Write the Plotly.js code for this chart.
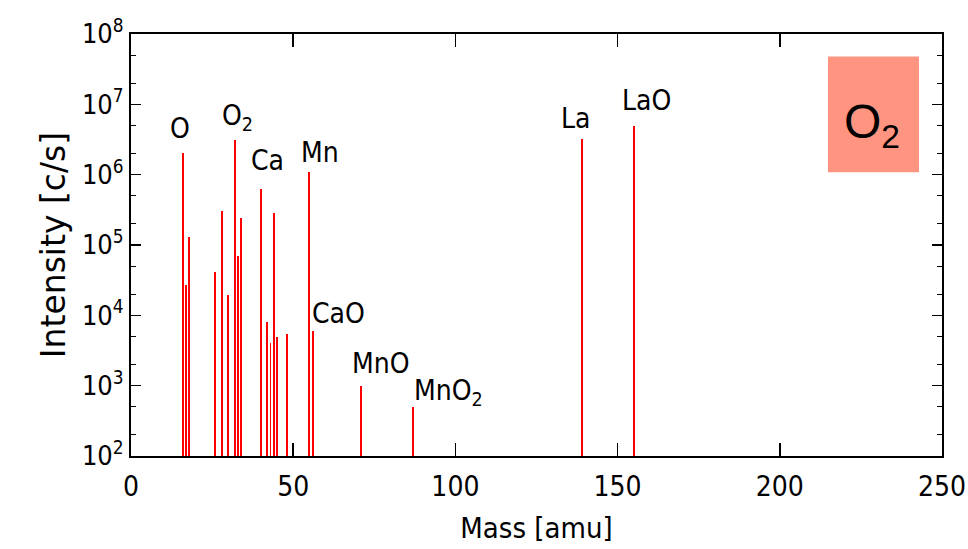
<!DOCTYPE html>
<html><head><meta charset="utf-8">
<script src="https://cdn.plot.ly/plotly-3.0.1.min.js"></script>
<style>html,body{margin:0;padding:0;background:#fff}</style>
</head><body>
<div id="chart" style="width:968px;height:549px"></div>
<script>
const masses = [16, 17, 18, 26, 28, 30, 32, 33, 34, 40, 42, 43, 44, 45, 48, 55, 56, 71, 87, 139, 155];
const intensities = [2.06e6, 2.7e4, 1.3e5, 4.1e4, 3.0e5, 1.95e4, 3.15e6, 6.9e4, 2.45e5, 6.3e5, 8.0e3, 4.0e3, 2.85e5, 4.9e3, 5.5e3, 1.1e6, 6.0e3, 1.0e3, 5.0e2, 3.2e6, 4.9e6];
const labelTexts = ['O', 'O<sub>2</sub>', 'Ca', 'Mn', 'CaO', 'MnO', 'MnO<sub>2</sub>', 'La', 'LaO'];
const labelMass = [15.1, 32.7, 42.2, 58.3, 64.1, 77.2, 97.9, 136.9, 159];
const labelY = [6.66, 6.81, 6.2, 6.32, 4.03, 3.31, 2.91, 6.8, 7.06];
const yTickVals = [1e2, 1e3, 1e4, 1e5, 1e6, 1e7, 1e8];
const yTickText = ['10<sup>2</sup>', '10<sup>3</sup>', '10<sup>4</sup>', '10<sup>5</sup>', '10<sup>6</sup>', '10<sup>7</sup>', '10<sup>8</sup>'];
const legendText = 'O<sub>2</sub>';

const narrow = '"DejaVu Sans Condensed", "Liberation Sans Narrow", "Liberation Sans", sans-serif';

const trace = {
  type: 'bar', x: masses, y: intensities, width: 0.6,
  marker: {color: '#ff0000', line: {width: 0}}, hoverinfo: 'x+y'
};

const annotations = labelTexts.map((t, i) => ({
  x: labelMass[i], y: labelY[i], xref: 'x', yref: 'y', text: t, showarrow: false,
  font: {family: narrow, size: 28, color: '#000'}, xanchor: 'center', yanchor: 'middle'
}));
annotations.push({
  xref: 'paper', yref: 'paper', x: (872-131)/811, y: (456-125)/422.5, text: legendText,
  showarrow: false, font: {family: '"Liberation Sans", Arial, sans-serif', size: 48, color: '#000'},
  xanchor: 'center', yanchor: 'middle'
});

const layout = {
  width: 968, height: 549,
  margin: {l: 131, r: 26, t: 34, b: 93},
  paper_bgcolor: '#fff', plot_bgcolor: '#fff',
  showlegend: false, bargap: 0,
  font: {family: narrow, color: '#000'},
  xaxis: {
    range: [0, 250], tickvals: [0, 50, 100, 150, 200, 250],
    ticks: 'inside', ticklen: 13, tickwidth: 1.5, tickcolor: '#000',
    showline: true, linecolor: '#000', linewidth: 2, mirror: 'allticks',
    showgrid: false, zeroline: false, ticklabelstandoff: 4,
    tickfont: {family: narrow, size: 28, color: '#000'},
    title: {text: 'Mass [amu]', font: {family: narrow, size: 29, color: '#000'}, standoff: 16}
  },
  yaxis: {
    type: 'log', range: [2, 8], tickvals: yTickVals, ticktext: yTickText,
    ticks: 'inside', ticklen: 10, tickwidth: 1.5, tickcolor: '#000',
    minor: {ticks: 'inside', ticklen: 5, tickwidth: 1.2, tickcolor: '#000', dtick: 'D2'},
    showline: true, linecolor: '#000', linewidth: 2, mirror: 'allticks',
    showgrid: false, zeroline: false,
    tickfont: {family: narrow, size: 27, color: '#000'},
    title: {text: 'Intensity [c/s]', font: {family: '"DejaVu Sans", sans-serif', size: 33, color: '#000'}, standoff: 6}
  },
  shapes: [{
    type: 'rect', xref: 'paper', yref: 'paper',
    x0: (828-131)/811, x1: (919-131)/811, y0: (456-172)/422.5, y1: (456-56)/422.5,
    fillcolor: '#ff9580', line: {width: 0}, layer: 'above'
  }],
  annotations: annotations
};

Plotly.newPlot('chart', [trace], layout, {displayModeBar: false, staticPlot: true});
</script>
</body></html>
